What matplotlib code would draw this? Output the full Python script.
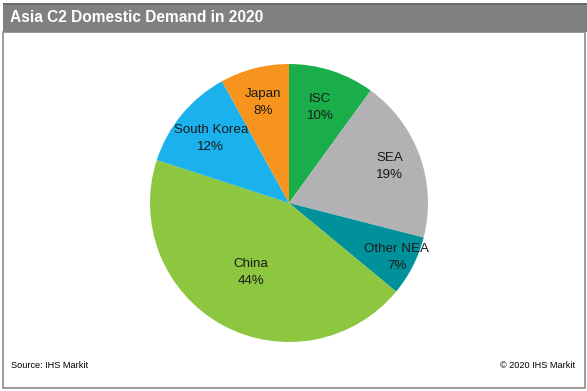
import numpy as np
import matplotlib
matplotlib.use("Agg")
import matplotlib.pyplot as plt
from matplotlib.patches import Rectangle

plt.rcParams['font.family'] = ['Liberation Sans', 'DejaVu Sans']

# data
regions = ["ISC", "SEA", "Other NEA", "China", "South Korea", "Japan"]
shares = [10, 19, 7, 44, 12, 8]
colors = ["#1aae4b", "#b2b2b4", "#00919b", "#8dc63f", "#1bb1ec", "#f7941d"]
label_dist = [0.72, 0.77, 0.87, 0.57, 0.73, 0.75]

W, H = 587, 391
fig = plt.figure(figsize=(W / 100, H / 100), dpi=100)

# frame and title bar
fig.patches.append(Rectangle((3 / W, 3 / H), 582 / W, 356 / H, transform=fig.transFigure,
                             fill=False, edgecolor="#8a8a8a", linewidth=1.2))
fig.patches.append(Rectangle((3 / W, (H - 32) / H), (W - 3) / W, 28 / H, transform=fig.transFigure,
                             facecolor="#808080", edgecolor="none"))
fig.patches.append(Rectangle((3 / W, (H - 5) / H), (W - 3) / W, 1.5 / H, transform=fig.transFigure,
                             facecolor="#6a6a6a", edgecolor="none"))
fig.text(10 / W, (H - 18) / H, "Asia C2 Domestic Demand in 2020", color="white",
         fontsize=11.2, fontweight="bold", va="center", ha="left")

# footer
fig.text(11 / W, (H - 365) / H, "Source: IHS Markit", fontsize=6.6, va="center", ha="left")
fig.text(575 / W, (H - 365) / H, "\u00a9 2020 IHS Markit", fontsize=6.6, va="center", ha="right")

# pie
cx, cy, r = 289, 203, 139
ax = fig.add_axes([(cx - r) / W, (H - cy - r) / H, 2 * r / W, 2 * r / H])
wedges, _ = ax.pie(shares, colors=colors, startangle=90, counterclock=False, radius=1,
                   wedgeprops=dict(linewidth=0))
ax.set_xlim(-1, 1)
ax.set_ylim(-1, 1)
ax.set_aspect("equal")
ax.axis("off")

for w, name, val, d in zip(wedges, regions, shares, label_dist):
    ang = np.deg2rad((w.theta1 + w.theta2) / 2)
    ax.text(d * np.cos(ang), d * np.sin(ang), f"{name}\n{val}%", ha="center", va="center",
            fontsize=9.6, color="#1a1a1a", linespacing=1.55)

fig.savefig("out.png", dpi=100)
